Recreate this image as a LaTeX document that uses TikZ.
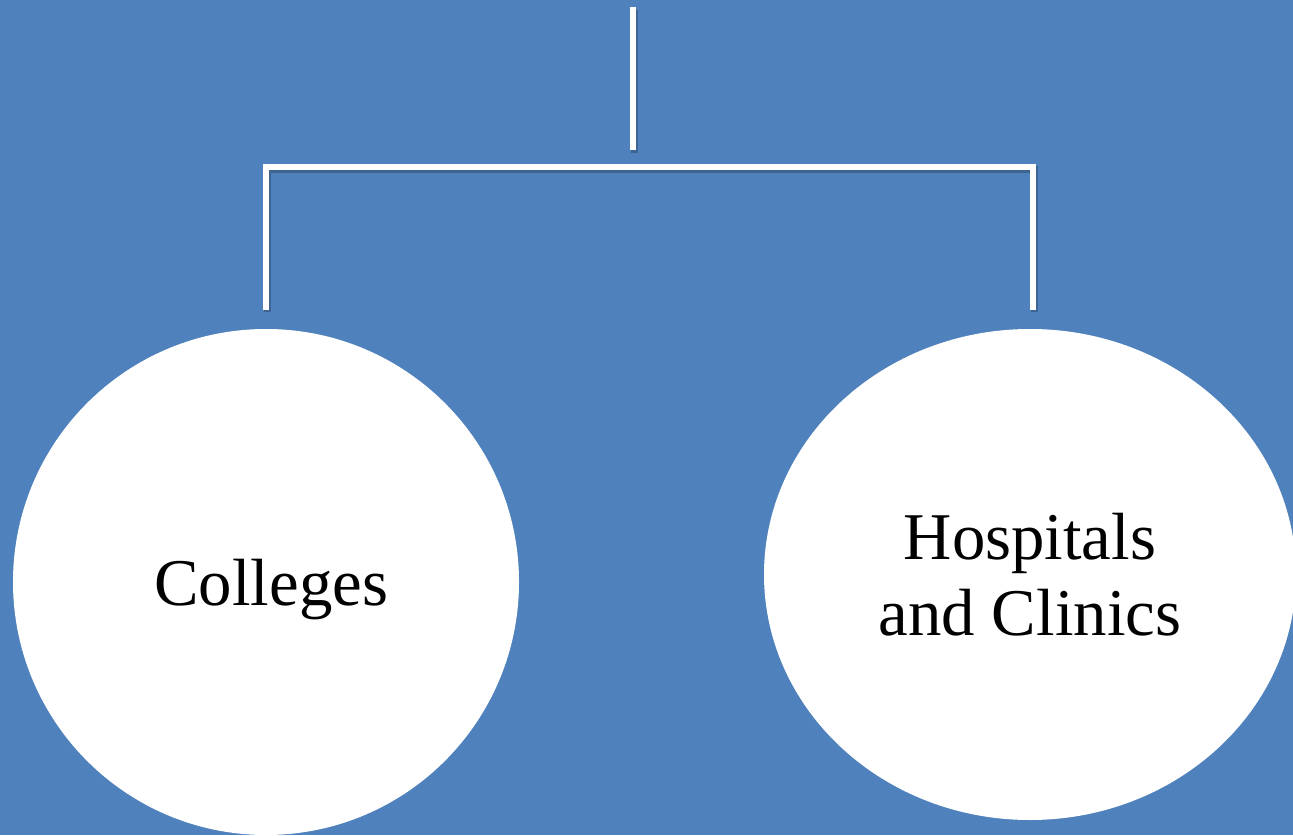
\documentclass[tikz,border=0pt]{standalone}
\usepackage{fontspec}
\setmainfont{Liberation Serif}
\usetikzlibrary{shapes.geometric}
\definecolor{slideblue}{HTML}{4F81BD}
\tikzset{
  bubble/.style={ellipse, fill=white, inner sep=0pt, align=center,
    font=\fontsize{38}{43}\selectfont},
  link/.style={draw=white, line width=3.4pt,
    preaction={draw=black, opacity=0.22, line width=3.6pt,
      transform canvas={shift={(0.8pt,-1.6pt)}}}}
}

\begin{document}
\begin{tikzpicture}
	\useasboundingbox (0,0) rectangle (25.86,16.7);
	\fill[slideblue] (0,0) rectangle (25.86,16.7);
	\node[bubble, minimum width=10.12cm, minimum height=10.12cm] (colleges) at (5.32,5.06) {\raisebox{-4.5pt}[\height][\depth]{\hspace{6pt}Colleges}};
	\node[bubble, minimum width=10.64cm, minimum height=9.82cm] (hospitals) at (20.6,5.21) {Hospitals\\and Clinics};
	\coordinate (top) at (12.66,16.56);
	\coordinate (hub) at (12.66,13.7);
	\draw[link] (top) -- (hub);
	\draw[link] ([yshift=3.8mm]colleges.north) -- ++(0,2.86) -| ([xshift=0.06cm,yshift=3.8mm]hospitals.north);
\end{tikzpicture}
\end{document}
